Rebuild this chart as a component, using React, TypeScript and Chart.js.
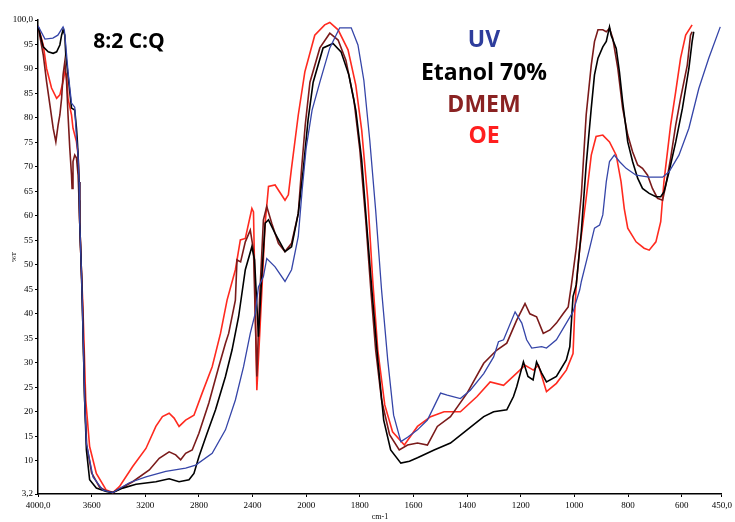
import React, { useEffect, useRef } from "react";
import { Chart, registerables } from "chart.js";

Chart.register(...registerables);

// ---- Axis ticks (wavenumber, cm-1) and %T ----
const X_TICKS = [4000, 3600, 3200, 2800, 2400, 2000, 1800, 1600, 1400, 1200, 1000, 800, 600, 450];
const X_TICK_LABELS = ["4000,0", "3600", "3200", "2800", "2400", "2000", "1800", "1600", "1400", "1200", "1000", "800", "600", "450,0"];
const Y_TICKS = [3.2, 10, 15, 20, 25, 30, 35, 40, 45, 50, 55, 60, 65, 70, 75, 80, 85, 90, 95, 100];
const Y_TICK_LABELS = ["3,2", "10", "15", "20", "25", "30", "35", "40", "45", "50", "55", "60", "65", "70", "75", "80", "85", "90", "95", "100,0"];

const SERIES_NAMES = ["UV", "Etanol 70%", "DMEM", "OE"];

// ---- UV ----
const UV_WN = [4000, 3948, 3889, 3852, 3813, 3804, 3793, 3776, 3750, 3726, 3713, 3701, 3694, 3689, 3676, 3670, 3664, 3652, 3639, 3590, 3516, 3442, 3319, 3195, 3047, 2899, 2824, 2701, 2602, 2528, 2467, 2417, 2380, 2356, 2319, 2294, 2232, 2158, 2109, 2059, 2030, 2000, 1978, 1949, 1912, 1875, 1832, 1807, 1785, 1763, 1741, 1719, 1696, 1674, 1647, 1622, 1585, 1548, 1499, 1474, 1425, 1388, 1338, 1301, 1283, 1264, 1221, 1196, 1178, 1159, 1122, 1104, 1067, 1030, 1005, 980, 974, 943, 925, 906, 894, 881, 869, 851, 832, 807, 770, 721, 671, 647, 610, 573, 536, 499, 456];
const UV_T = [98.8, 96.1, 96.3, 96.9, 98.6, 98.0, 94.9, 89.4, 83.0, 82.2, 75.9, 72.4, 66.9, 58.8, 48.5, 42.8, 36.1, 22.4, 13.6, 6.7, 4.0, 3.5, 5.5, 6.7, 7.8, 8.5, 9.1, 11.5, 16.3, 22.4, 29.2, 36.0, 40.1, 45.5, 47.6, 51.3, 49.6, 46.6, 49.0, 55.8, 65.3, 73.9, 81.6, 87.3, 94.3, 98.4, 98.4, 94.9, 87.7, 75.5, 61.2, 44.9, 30.6, 19.3, 13.9, 14.8, 16.3, 18.3, 23.8, 23.4, 22.7, 24.4, 27.8, 31.2, 34.3, 34.7, 40.4, 38.1, 34.7, 33.0, 33.3, 33.0, 34.7, 38.1, 40.4, 44.9, 46.6, 53.4, 57.5, 58.1, 60.2, 67.0, 71.1, 72.4, 71.1, 69.7, 68.3, 67.9, 67.9, 69.0, 72.4, 77.9, 86.0, 92.2, 98.6];

// ---- Etanol 70% ----
const ET_WN = [4000, 3961, 3924, 3887, 3861, 3837, 3824, 3813, 3800, 3793, 3776, 3763, 3750, 3726, 3713, 3707, 3701, 3694, 3689, 3676, 3670, 3664, 3652, 3639, 3615, 3565, 3491, 3442, 3368, 3269, 3121, 3022, 2948, 2874, 2837, 2800, 2739, 2676, 2602, 2553, 2504, 2454, 2405, 2385, 2356, 2333, 2306, 2281, 2232, 2158, 2109, 2059, 2022, 1993, 1974, 1937, 1900, 1870, 1841, 1815, 1793, 1770, 1752, 1733, 1711, 1685, 1647, 1615, 1585, 1523, 1462, 1400, 1338, 1301, 1252, 1227, 1215, 1190, 1173, 1154, 1141, 1122, 1104, 1067, 1030, 1017, 1005, 993, 974, 956, 937, 925, 912, 894, 881, 869, 863, 844, 832, 820, 801, 783, 764, 746, 721, 696, 678, 666, 647, 622, 597, 573, 561, 555];
const ET_T = [98.8, 94.5, 93.5, 93.2, 93.5, 94.9, 96.9, 98.0, 96.9, 92.9, 88.8, 85.3, 82.0, 81.6, 77.9, 75.5, 72.4, 66.9, 58.8, 48.5, 42.8, 36.1, 22.4, 12.2, 6.1, 4.4, 3.7, 3.5, 4.4, 5.2, 5.7, 6.3, 5.7, 6.1, 7.4, 10.8, 15.6, 20.4, 27.2, 32.6, 39.4, 49.0, 53.7, 51.0, 35.3, 46.9, 58.5, 59.2, 56.4, 52.7, 53.7, 60.5, 69.4, 79.6, 87.3, 94.3, 95.2, 93.5, 88.8, 81.6, 71.4, 55.1, 42.8, 30.6, 18.3, 12.2, 9.5, 9.9, 10.6, 12.2, 13.6, 16.3, 19.0, 20.0, 20.4, 23.1, 25.1, 30.2, 27.2, 26.5, 30.2, 27.9, 26.1, 27.2, 30.6, 33.3, 43.5, 45.9, 56.8, 70.4, 82.0, 88.8, 92.2, 94.5, 95.6, 98.6, 96.9, 94.2, 89.4, 83.3, 75.1, 71.1, 67.7, 65.6, 64.6, 63.9, 63.9, 64.9, 69.0, 75.1, 82.0, 90.1, 95.6, 97.6];

// ---- DMEM ----
const DM_WN = [4000, 3961, 3936, 3911, 3887, 3867, 3850, 3837, 3824, 3813, 3800, 3787, 3776, 3763, 3750, 3746, 3739, 3726, 3713, 3701, 3694, 3689, 3676, 3670, 3664, 3652, 3637, 3600, 3541, 3491, 3442, 3294, 3170, 3096, 3022, 2973, 2936, 2899, 2850, 2800, 2726, 2652, 2602, 2578, 2528, 2516, 2489, 2454, 2417, 2393, 2368, 2348, 2319, 2294, 2257, 2207, 2158, 2109, 2059, 2035, 2007, 1986, 1949, 1912, 1881, 1852, 1822, 1800, 1778, 1759, 1741, 1719, 1689, 1653, 1622, 1585, 1548, 1511, 1462, 1400, 1338, 1289, 1252, 1215, 1184, 1166, 1141, 1116, 1091, 1067, 1042, 1023, 1011, 993, 974, 956, 937, 925, 912, 894, 881, 869, 857, 838, 820, 801, 783, 764, 746, 727, 709, 690, 671, 659, 641, 622, 604, 579, 567, 561];
const DM_T = [98.8, 92.9, 87.4, 82.6, 77.9, 75.1, 78.6, 80.6, 84.0, 88.8, 91.5, 87.4, 80.6, 73.8, 68.3, 65.6, 71.1, 72.4, 71.8, 68.3, 63.2, 58.8, 48.5, 42.8, 36.1, 22.4, 13.2, 7.5, 4.6, 3.8, 3.5, 5.7, 8.1, 10.5, 11.8, 11.2, 10.2, 11.5, 12.2, 15.6, 21.8, 29.2, 34.0, 36.0, 42.8, 51.0, 50.6, 54.7, 57.1, 53.0, 27.2, 42.8, 59.2, 61.9, 58.5, 54.4, 52.7, 54.4, 60.5, 69.4, 78.6, 87.3, 94.3, 97.3, 95.9, 91.8, 83.7, 73.5, 59.2, 44.9, 32.6, 22.4, 15.3, 12.2, 13.2, 13.6, 13.2, 17.0, 19.0, 23.8, 29.9, 32.6, 34.0, 38.7, 42.1, 40.0, 39.4, 36.0, 36.7, 38.1, 40.0, 41.4, 45.9, 53.4, 64.3, 80.6, 90.8, 95.6, 98.0, 98.0, 97.6, 98.3, 96.3, 90.1, 82.0, 76.5, 73.1, 70.4, 69.7, 68.3, 65.6, 63.6, 63.2, 66.3, 71.8, 78.6, 84.0, 90.8, 96.9, 97.6];

// ---- OE ----
const OE_WN = [4000, 3961, 3936, 3899, 3861, 3837, 3813, 3800, 3787, 3776, 3750, 3739, 3713, 3701, 3694, 3689, 3676, 3667, 3659, 3644, 3615, 3565, 3491, 3442, 3393, 3294, 3195, 3121, 3072, 3022, 2985, 2948, 2899, 2837, 2776, 2701, 2639, 2590, 2528, 2491, 2454, 2405, 2393, 2382, 2368, 2345, 2306, 2281, 2232, 2158, 2133, 2111, 2059, 2010, 1968, 1931, 1912, 1881, 1844, 1815, 1793, 1770, 1752, 1733, 1707, 1678, 1634, 1585, 1536, 1486, 1425, 1363, 1314, 1264, 1215, 1184, 1153, 1134, 1104, 1067, 1030, 1005, 999, 993, 980, 956, 937, 919, 894, 869, 844, 826, 814, 801, 770, 740, 721, 696, 678, 666, 641, 622, 604, 585, 561];
const OE_T = [98.8, 94.9, 90.1, 86.1, 84.0, 84.7, 87.4, 89.4, 88.8, 84.0, 80.6, 77.9, 75.1, 72.4, 66.9, 58.8, 48.5, 42.8, 36.1, 22.4, 12.9, 7.4, 4.0, 3.5, 4.7, 8.8, 12.5, 17.0, 19.0, 19.7, 18.7, 17.0, 18.3, 19.3, 23.8, 29.2, 36.0, 42.8, 49.0, 55.1, 55.4, 61.5, 60.8, 44.9, 24.4, 36.7, 58.5, 66.0, 66.3, 63.2, 64.3, 69.4, 80.6, 89.4, 96.9, 99.0, 99.5, 98.0, 93.9, 86.7, 77.5, 63.2, 46.9, 32.6, 21.4, 15.9, 13.2, 17.0, 19.0, 20.0, 20.0, 23.1, 26.1, 25.4, 27.9, 29.5, 28.5, 29.5, 24.1, 25.8, 28.5, 31.9, 40.0, 45.9, 53.4, 63.6, 72.4, 76.2, 76.5, 75.1, 72.4, 67.0, 61.5, 57.5, 54.7, 53.4, 53.0, 54.7, 58.8, 67.0, 78.6, 85.4, 92.2, 96.9, 99.0];

// FTIR axis with scale change at 2000 cm-1 (half compression above 2000)
function toU(w: number): number {
  return w >= 2000 ? (4000 - w) / 2 : 1000 + (2000 - w);
}

function pts(wn: number[], t: number[]) {
  return wn.map((w, i) => ({ x: toU(w), y: t[i] }));
}

const COLORS = ["#3545a8", "#000000", "#7a1a1a", "#ff2a1f"];
const TEXT_COLORS = ["#2e3d9c", "#000000", "#8a2222", "#ff1f1f"];

const textPlugin = {
  id: "ftirTexts",
  afterDraw(chart: any) {
    const ctx = chart.ctx;
    ctx.save();
    ctx.textAlign = "center";
    ctx.textBaseline = "middle";
    ctx.font = "bold 21px 'Open Sans'";
    ctx.fillStyle = "#000";
    ctx.fillText("8:2 C:Q", 129, 42);
    ctx.font = "bold 23px 'Open Sans'";
    const ys = [40, 73, 105, 136];
    SERIES_NAMES.forEach((n, i) => {
      ctx.fillStyle = TEXT_COLORS[i];
      ctx.fillText(n, 484, ys[i]);
    });
    ctx.restore();
  },
};

export default function App() {
  const ref = useRef<HTMLCanvasElement | null>(null);
  useEffect(() => {
    if (!ref.current) return;
    const data = [pts(UV_WN, UV_T), pts(ET_WN, ET_T), pts(DM_WN, DM_T), pts(OE_WN, OE_T)];
    const chart = new Chart(ref.current, {
      type: "line",
      data: {
        datasets: SERIES_NAMES.map((name, i) => ({
          label: name,
          data: data[i],
          borderColor: COLORS[i],
          backgroundColor: COLORS[i],
          borderWidth: i === 0 ? 1.3 : 1.6,
          pointRadius: 0,
          tension: 0,
          fill: false,
        })),
      },
      options: {
        animation: false,
        responsive: false,
        maintainAspectRatio: false,
        parsing: false as any,
        layout: { padding: { top: 20, right: 8, left: 0, bottom: 0 } },
        plugins: { legend: { display: false }, tooltip: { enabled: false }, title: { display: false } },
        scales: {
          x: {
            type: "linear",
            min: 0,
            max: toU(450),
            afterBuildTicks: (scale: any) => {
              scale.ticks = X_TICKS.map((w) => ({ value: toU(w) }));
            },
            afterFit: (scale: any) => {
              scale.height = 28;
            },
            ticks: {
              autoSkip: false,
              maxRotation: 0,
              padding: 3,
              color: "#000",
              font: { family: "'Liberation Serif'", size: 9 },
              callback: (_v: any, i: number) => X_TICK_LABELS[i],
            },
            grid: { display: true, drawOnChartArea: false, drawTicks: true, tickLength: 3, color: "#000" },
            border: { display: true, color: "#000", width: 1.5 },
            title: { display: true, text: "cm-1", color: "#000", font: { family: "'Liberation Serif'", size: 8 }, padding: 0 },
          },
          y: {
            type: "linear",
            min: 3.2,
            max: 100,
            afterBuildTicks: (scale: any) => {
              scale.ticks = Y_TICKS.map((v) => ({ value: v }));
            },
            afterFit: (scale: any) => {
              scale.width = 38;
            },
            ticks: {
              autoSkip: false,
              padding: 2,
              color: "#000",
              font: { family: "'Liberation Serif'", size: 9 },
              callback: (_v: any, i: number) => Y_TICK_LABELS[i],
            },
            grid: { display: true, drawOnChartArea: false, drawTicks: true, tickLength: 3, color: "#000" },
            border: { display: true, color: "#000", width: 1.5 },
            title: { display: true, text: "%T", color: "#000", font: { family: "'Liberation Serif'", size: 7 }, padding: { top: 10, bottom: 0 } },
          },
        },
      },
      plugins: [textPlugin],
    } as any);
    return () => chart.destroy();
  }, []);
  return (
    <div style={{ position: "fixed", left: 0, top: 0, width: 735, height: 522, background: "#fff" }}>
      <canvas ref={ref} width={735} height={522} style={{ width: 735, height: 522, display: "block" }} />
    </div>
  );
}
